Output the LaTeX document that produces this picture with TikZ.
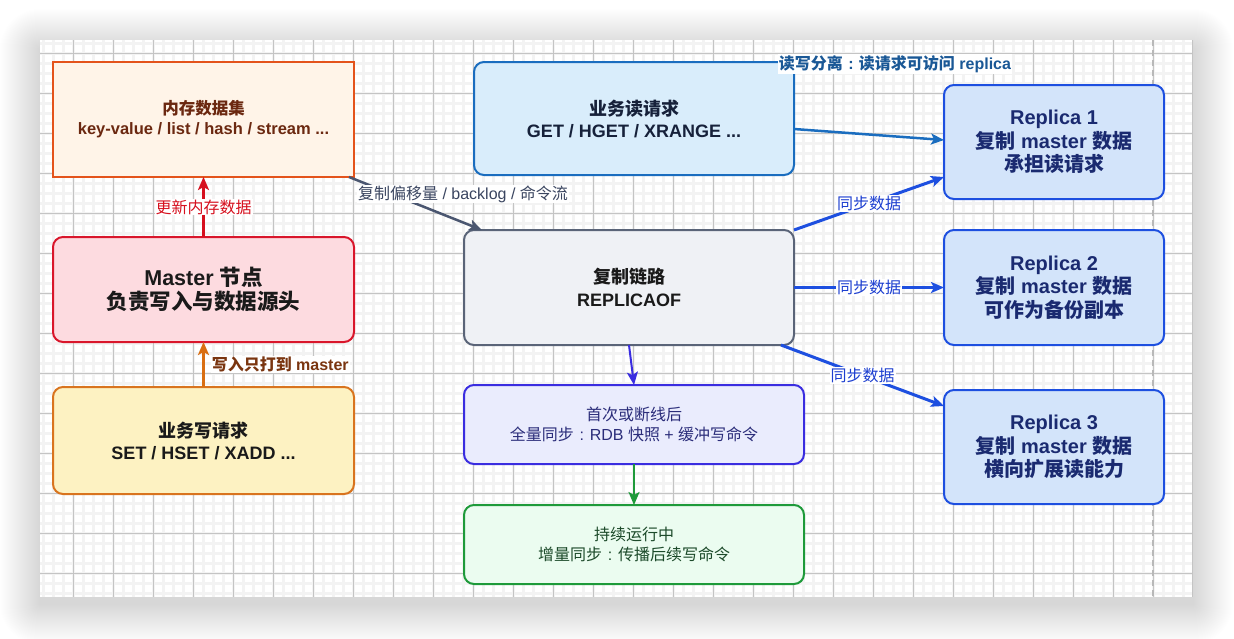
\documentclass[tikz,border=0pt]{standalone}
\usepackage{fontspec}
\setmainfont{Liberation Sans}
\newfontfamily\cjk{Noto Sans CJK SC}
\usetikzlibrary{arrows.meta,calc}
\newcommand\zh[1]{{\cjk #1}}
\newcommand\fwc{\makebox[1em][c]{:}}
\definecolor{memfill}{HTML}{FFF4E8}\definecolor{memline}{HTML}{E4531B}\definecolor{memtext}{HTML}{6B2810}
\definecolor{masfill}{HTML}{FDDBE0}\definecolor{masline}{HTML}{D9162B}
\definecolor{wrfill}{HTML}{FDF2C2}\definecolor{wrline}{HTML}{D9741E}
\definecolor{rdfill}{HTML}{D9EDFB}\definecolor{rdline}{HTML}{1A6DBF}\definecolor{rdtext}{HTML}{16213A}
\definecolor{lkfill}{HTML}{EFF1F5}\definecolor{lkline}{HTML}{5A6478}
\definecolor{fsfill}{HTML}{EAECFD}\definecolor{fsline}{HTML}{3A2DE0}\definecolor{fstext}{HTML}{2B2D7A}
\definecolor{ctfill}{HTML}{EBFCF0}\definecolor{ctline}{HTML}{1E9A3A}\definecolor{cttext}{HTML}{1C4A2A}
\definecolor{rpfill}{HTML}{D3E4FA}\definecolor{rpline}{HTML}{1D4FE0}\definecolor{rptext}{HTML}{1A2A70}
\definecolor{darktext}{HTML}{1A1A1A}
\definecolor{redarrow}{HTML}{D6101E}\definecolor{orarrow}{HTML}{D96E12}\definecolor{orlabel}{HTML}{7A3510}
\definecolor{slarrow}{HTML}{4A5670}\definecolor{sllabel}{HTML}{3A4560}
\definecolor{rwlabel}{HTML}{1A5896}\definecolor{synclabel}{HTML}{1D3FD0}
\definecolor{gridminor}{HTML}{F3F3F3}\definecolor{gridmajor}{HTML}{C4C4C4}
\tikzset{
  x=1pt, y=-1pt,
  box/.style={draw, line width=2pt, align=center, outer sep=0pt, inner sep=2pt},
  rbox/.style={box, rounded corners=10pt},
  conn/.style={line width=2.5pt, -{Stealth[length=13pt,width=11pt,inset=3pt]}},
  elabel/.style={fill=white, inner sep=1pt, font=\fontsize{16}{19}\selectfont},
}
\begin{document}
\begin{tikzpicture}
\useasboundingbox (0,0) rectangle (1234,638);
\fill[white] (0,0) rectangle (1234,638);
% shadow
\foreach \i in {1,...,40}
  \fill[black, opacity=0.0042, rounded corners={\i pt}] ({40-\i},{40-\i+9}) rectangle ({1193+\i},{597+\i+7});
\fill[white] (40,40) rectangle (1193,597);
% grid
\begin{scope}
\clip (40,40) rectangle (1193,597);
\foreach \k in {0,...,116} \draw[gridminor, line width=2.5pt] ({33.33+10*\k},40) -- ++(0,557);
\foreach \k in {0,...,56} \draw[gridminor, line width=2.5pt] (40,{33.33+10*\k}) -- ++(1153,0);
\foreach \k in {0,...,29} \draw[gridmajor, line width=1pt] ({33.33+40*\k},40) -- ++(0,557);
\foreach \k in {0,...,14} \draw[gridmajor, line width=1pt] (40,{13.33+40*\k}) -- ++(1153,0);
\end{scope}
\draw[gridmajor, line width=1pt] (1192.5,40) -- (1192.5,597);
\draw[black!28, line width=2pt, dash pattern=on 6pt off 4pt] (1153.3,40) -- (1153.3,597);

% nodes
\node[box, fill=memfill, draw=memline, text=memtext, minimum width=301, minimum height=115,
  font=\bfseries\fontsize{16.5}{20}\selectfont] (mem) at (203.5,119.5)
  {\zh{内存数据集}\\key-value / list / hash / stream ...};
\node[rbox, fill=masfill, draw=masline, text=darktext, minimum width=301, minimum height=105,
  font=\bfseries\fontsize{21.5}{24}\selectfont] (master) at (203.5,289.5)
  {Master \zh{节点}\\\zh{负责写入与数据源头}};
\node[rbox, fill=wrfill, draw=wrline, text=darktext, minimum width=301, minimum height=107,
  font=\bfseries\fontsize{18}{22}\selectfont] (write) at (203.5,440.5)
  {\zh{业务写请求}\\SET / HSET / XADD ...};
\node[rbox, fill=rdfill, draw=rdline, text=rdtext, minimum width=320, minimum height=113,
  font=\bfseries\fontsize{18}{22}\selectfont] (read) at (634,118.5)
  {\zh{业务读请求}\\GET / HGET / XRANGE ...};
\node[rbox, fill=lkfill, draw=lkline, text=darktext, minimum width=330, minimum height=115,
  font=\bfseries\fontsize{18}{22.5}\selectfont] (link) at (629,287.5)
  {\zh{复制链路}\\REPLICAOF};
\node[rbox, fill=fsfill, draw=fsline, text=fstext, minimum width=340, minimum height=79,
  font=\fontsize{16}{20.5}\selectfont] (first) at (634,424.5)
  {\zh{首次或断线后}\\\zh{全量同步}\fwc RDB \zh{快照} + \zh{缓冲写命令}};
\node[rbox, fill=ctfill, draw=ctline, text=cttext, minimum width=340, minimum height=79,
  font=\fontsize{16}{20.5}\selectfont] (cont) at (634,544.5)
  {\zh{持续运行中}\\\zh{增量同步}\fwc\zh{传播后续写命令}};
\node[rbox, fill=rpfill, draw=rpline, text=rptext, minimum width=220, minimum height=114,
  font=\bfseries\fontsize{20}{23.5}\selectfont] (r1) at (1054,142)
  {Replica 1\\\zh{复制} master \zh{数据}\\\zh{承担读请求}};
\node[rbox, fill=rpfill, draw=rpline, text=rptext, minimum width=220, minimum height=115,
  font=\bfseries\fontsize{20}{23.5}\selectfont] (r2) at (1054,287.5)
  {Replica 2\\\zh{复制} master \zh{数据}\\\zh{可作为备份副本}};
\node[rbox, fill=rpfill, draw=rpline, text=rptext, minimum width=220, minimum height=114,
  font=\bfseries\fontsize{20}{23.5}\selectfont] (r3) at (1054,447)
  {Replica 3\\\zh{复制} master \zh{数据}\\\zh{横向扩展读能力}};

% connectors
\draw[conn, redarrow] (master.north) -- node[elabel, text=redarrow] (lbmem) {\zh{更新内存数据}} (mem.south);
\draw[conn, orarrow] (write.north) -- node[elabel, text=orlabel, anchor=west, xshift=6pt, font=\bfseries\fontsize{16}{19}\selectfont] (lbwr) {\zh{写入只打到} master} (master.south);
\draw[conn, slarrow] ([xshift=-5pt]mem.south east) -- node[elabel, text=sllabel, xshift=47.5pt, yshift=9.5pt] (lbrep) {\zh{复制偏移量} / backlog / \zh{命令流}} ([xshift=18pt]link.north west);
\draw[conn, rdline] ([yshift=-10.5pt]read.east) -- node[elabel, text=rwlabel, xshift=26pt, yshift=70.5pt, font=\bfseries\fontsize{16}{19}\selectfont] (lbrw) {\zh{读写分离}\fwc\zh{读请求可访问} replica} ([yshift=2pt]r1.west);
\draw[conn, rpline, line width=3pt] (link.north east) -- node[elabel, text=synclabel] (lbs1) {\zh{同步数据}} ([yshift=-35pt]r1.west);
\draw[conn, rpline, line width=3pt] (link.east) -- node[elabel, text=synclabel] (lbs2) {\zh{同步数据}} (r2.west);
\draw[conn, rpline, line width=3pt] ([xshift=-13pt]link.south east) -- node[elabel, text=synclabel] (lbs3) {\zh{同步数据}} ([yshift=-16pt]r3.north west);
\draw[conn, fsline, line width=2pt] (link.south) -- (first.north);
\draw[conn, ctline, line width=2pt] (first.south) -- (cont.north);
\end{tikzpicture}
\end{document}
